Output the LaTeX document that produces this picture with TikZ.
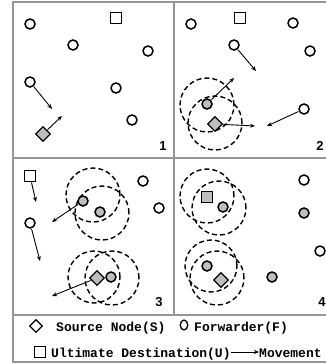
\documentclass[tikz,border=0pt]{standalone}
\usepackage{fontspec}
\usetikzlibrary{shapes.geometric,arrows.meta}
\newfontfamily\legfont{Liberation Mono}
\newfontfamily\numfont{Liberation Sans}
\definecolor{nodegray}{RGB}{190,190,190}
\definecolor{framegray}{RGB}{150,150,150}
\tikzset{
 fw/.style={circle, draw, line width=1.5pt, fill=white, minimum size=10pt, inner sep=0pt},
 fwg/.style={fw, fill=nodegray},
 dst/.style={rectangle, draw, line width=1.3pt, fill=white, minimum size=10.5pt, inner sep=0pt},
 dstg/.style={dst, fill=nodegray},
 src/.style={diamond, draw, line width=1.3pt, fill=nodegray, minimum width=15pt, minimum height=15pt, inner sep=0pt},
 srcw/.style={src, fill=white, minimum width=13pt, minimum height=13pt},
 mv/.style={-{Stealth[length=5pt,width=4pt]}, line width=0.9pt, shorten <=0.5pt},
 rng/.style={dash pattern=on 5pt off 3pt, line width=1.4pt},
 frame/.style={draw=framegray, line width=2pt},
 pnum/.style={font=\numfont\bfseries\fontsize{13}{13}\selectfont, inner sep=0pt},
 leg/.style={font=\legfont\bfseries\fontsize{13}{13}\selectfont, inner sep=0pt, anchor=base west}
}
\begin{document}
\begin{tikzpicture}[x=1pt,y=-1pt]
\useasboundingbox (0,0) rectangle (326,364);
% frame
\draw[frame] (327,2) -- (13,2) -- (13,362) -- (327,362);
\draw[frame] (174,2) -- (174,315);
\draw[frame] (13,158) -- (327,158);
\draw[frame] (13,315) -- (327,315);

% ---------- panel 1
\node[fw] (a1) at (30,24) {};
\node[dst] (a2) at (116,18) {};
\node[fw] (a3) at (73,45) {};
\node[fw] (a4) at (148,51) {};
\node[fw] (a5) at (30,82) {};
\node[fw] (a6) at (116,88) {};
\node[fw] (a7) at (132,120) {};
\node[src] (a8) at (43,134) {};
\coordinate (a5t) at (52,109);
\coordinate (a8t) at (62,116);
\draw[mv] (a5) -- (a5t);
\draw[mv] (a8) -- (a8t);
\node[pnum] (n1) at (163,146) {1};

% ---------- panel 2
\draw[rng] (207,105) circle[radius=27pt];
\draw[rng] (215,123) circle[radius=27pt];
\node[fw] (b1) at (191,24) {};
\node[dst] (b2) at (240,18) {};
\node[fw] (b3) at (293,23) {};
\node[fw] (b4) at (234,45) {};
\node[fw] (b5) at (310,51) {};
\node[fwg] (b6) at (207,104) {};
\node[src] (b7) at (215,124) {};
\node[fw] (b8) at (304,109) {};
\coordinate (b4t) at (256,71);
\coordinate (b6t) at (234,78);
\coordinate (b7t) at (255,126);
\coordinate (b8t) at (267,126);
\draw[mv] (b4) -- (b4t);
\draw[mv] (b6) -- (b6t);
\draw[mv] (b7) -- (b7t);
\draw[mv] (b8) -- (b8t);
\node[pnum] (n2) at (320,146) {2};

% ---------- panel 3
\draw[rng] (93,195) circle[radius=27pt];
\draw[rng] (102,213) circle[radius=27pt];
\draw[rng] (94,277) circle[radius=26pt];
\draw[rng] (112,278) circle[radius=27pt];
\node[dst] (c1) at (30,176) {};
\node[fw] (c2) at (30,223) {};
\node[fw] (c3) at (143,181) {};
\node[fw] (c4) at (159,208) {};
\node[fwg] (c5) at (83,201) {};
\node[fwg] (c6) at (100,212) {};
\node[fwg] (c8) at (111,277) {};
\node[src] (c7) at (97,278) {};
\coordinate (c1t) at (36,202);
\coordinate (c2t) at (40,261);
\coordinate (c5t) at (52,222);
\coordinate (c7t) at (52,296);
\draw[mv] (c1) -- (c1t);
\draw[mv] (c2) -- (c2t);
\draw[mv] (c5) -- (c5t);
\draw[mv] (c7) -- (c7t);
\node[pnum] (n3) at (159,302) {3};

% ---------- panel 4
\draw[rng] (207,196) circle[radius=27pt];
\draw[rng] (219,208) circle[radius=27pt];
\draw[rng] (211,266) circle[radius=26pt];
\draw[rng] (217,278) circle[radius=27pt];
\node[dstg] (d1) at (207,197) {};
\node[fwg] (d2) at (223,207) {};
\node[fw] (d3) at (304,180) {};
\node[fwg] (d4) at (304,213) {};
\node[fw] (d5) at (320,251) {};
\node[fwg] (d6) at (207,266) {};
\node[src] (d7) at (221,280) {};
\node[fwg] (d8) at (272,277) {};
\node[pnum] (n4) at (322,302) {4};

% ---------- legend
\node[srcw] (l1) at (36,326) {};
\node[leg] (l1t) at (56,331) {Source Node(S)};
\node[ellipse, draw, line width=1.3pt, minimum width=7.5pt, minimum height=10pt, inner sep=0pt] (l2) at (184,325) {};
\node[leg] (l2t) at (194,331) {Forwarder(F)};
\node[dst] (l3) at (40,352) {};
\node[leg] (l3t) at (51,357) {Ultimate Destination(U)};
\coordinate (l4s) at (230,352);
\node[leg] (l4t) at (259,357) {Movement};
\draw[mv] (l4s) -- (l4t.west |- l4s);
\end{tikzpicture}
\end{document}
